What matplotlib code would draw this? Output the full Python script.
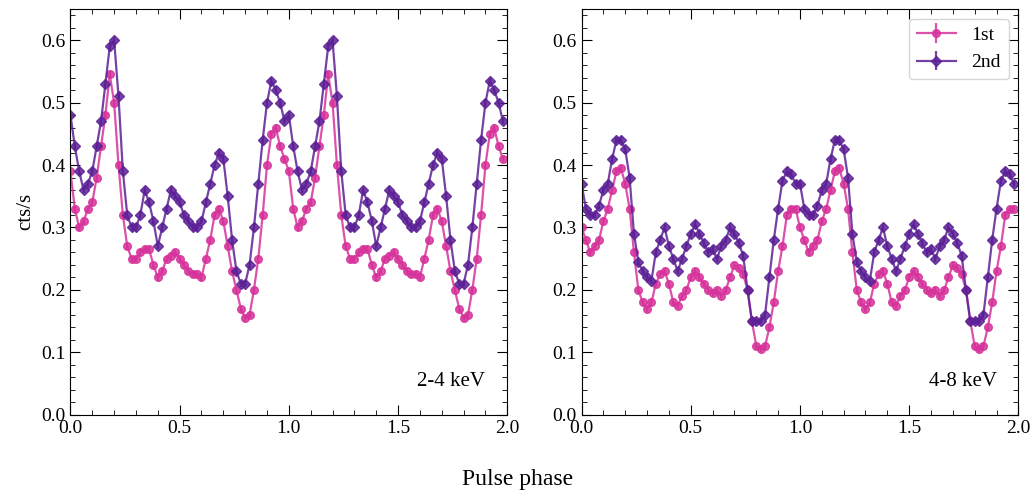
import numpy as np
import matplotlib.pyplot as plt

plt.rcParams['font.family'] = ['Liberation Serif', 'DejaVu Serif']
plt.rcParams['mathtext.fontset'] = 'stix'

# one pulse cycle, 50 bins, repeated twice
phase1 = np.arange(50) / 50.0

soft_1st = [0.39, 0.33, 0.30, 0.31, 0.33, 0.34, 0.38, 0.43, 0.48, 0.545,
            0.50, 0.40, 0.32, 0.27, 0.25, 0.25, 0.26, 0.265, 0.265, 0.24,
            0.22, 0.23, 0.25, 0.255, 0.26, 0.25, 0.24, 0.23, 0.225, 0.225,
            0.22, 0.25, 0.28, 0.32, 0.33, 0.31, 0.27, 0.23, 0.20, 0.17,
            0.155, 0.16, 0.20, 0.25, 0.32, 0.40, 0.45, 0.46, 0.43, 0.41]
soft_2nd = [0.48, 0.43, 0.39, 0.36, 0.37, 0.39, 0.43, 0.47, 0.53, 0.59,
            0.60, 0.51, 0.39, 0.32, 0.30, 0.30, 0.32, 0.36, 0.34, 0.31,
            0.27, 0.30, 0.33, 0.36, 0.35, 0.34, 0.32, 0.31, 0.30, 0.30,
            0.31, 0.34, 0.37, 0.40, 0.42, 0.41, 0.35, 0.28, 0.23, 0.21,
            0.21, 0.24, 0.30, 0.37, 0.44, 0.50, 0.535, 0.52, 0.50, 0.47]
hard_1st = [0.30, 0.28, 0.26, 0.27, 0.28, 0.31, 0.33, 0.36, 0.39, 0.395,
            0.37, 0.33, 0.26, 0.20, 0.18, 0.17, 0.18, 0.21, 0.225, 0.23,
            0.21, 0.18, 0.175, 0.19, 0.20, 0.22, 0.23, 0.22, 0.21, 0.20,
            0.195, 0.20, 0.19, 0.20, 0.22, 0.24, 0.235, 0.225, 0.20, 0.15,
            0.11, 0.105, 0.11, 0.14, 0.18, 0.23, 0.27, 0.32, 0.33, 0.33]
hard_2nd = [0.37, 0.33, 0.32, 0.32, 0.335, 0.36, 0.37, 0.41, 0.44, 0.44,
            0.425, 0.38, 0.29, 0.245, 0.23, 0.22, 0.215, 0.26, 0.28, 0.30,
            0.27, 0.25, 0.23, 0.25, 0.27, 0.29, 0.305, 0.29, 0.275, 0.26,
            0.265, 0.25, 0.27, 0.28, 0.30, 0.29, 0.275, 0.255, 0.20, 0.15,
            0.15, 0.15, 0.16, 0.22, 0.28, 0.33, 0.375, 0.39, 0.385, 0.37]

phase = np.concatenate([phase1, phase1 + 1])
c1 = '#d6339b'
c2 = '#5c2196'

fig, axes = plt.subplots(1, 2, figsize=(10.36, 4.95), dpi=100)
panels = [(soft_1st, soft_2nd, '2-4 keV'), (hard_1st, hard_2nd, '4-8 keV')]
for i, (ax, (a, b, lab)) in enumerate(zip(axes, panels)):
    ya = np.tile(a, 2)
    yb = np.tile(b, 2)
    ax.errorbar(phase, ya, yerr=0.005, color=c1, marker='o', ms=5.5, lw=1.6,
                mfc=c1, mec=c1, alpha=0.85, label='1st')
    ax.errorbar(phase, yb, yerr=0.005, color=c2, marker='D', ms=5, lw=1.6,
                mfc=c2, mec=c2, alpha=0.85, label='2nd')
    ax.set_xlim(0, 2)
    ax.set_ylim(0, 0.65)
    ax.set_xticks([0, 0.5, 1.0, 1.5, 2.0])
    ax.set_yticks(np.arange(0, 0.61, 0.1))
    ax.minorticks_on()
    ax.tick_params(which='both', direction='in', top=True, right=True, labelsize=14)
    ax.tick_params(which='major', length=7)
    ax.tick_params(which='minor', length=3.5)
    ax.text(0.95, 0.07, lab, transform=ax.transAxes, ha='right', fontsize=15)
    if i == 0:
        ax.set_ylabel('cts/s', fontsize=15)
    else:
        ax.legend(loc='upper right', fontsize=14, frameon=True)

fig.supxlabel('Pulse phase', fontsize=17)
plt.subplots_adjust(left=0.068, right=0.983, top=0.982, bottom=0.162, wspace=0.17)
plt.savefig('out.png')
